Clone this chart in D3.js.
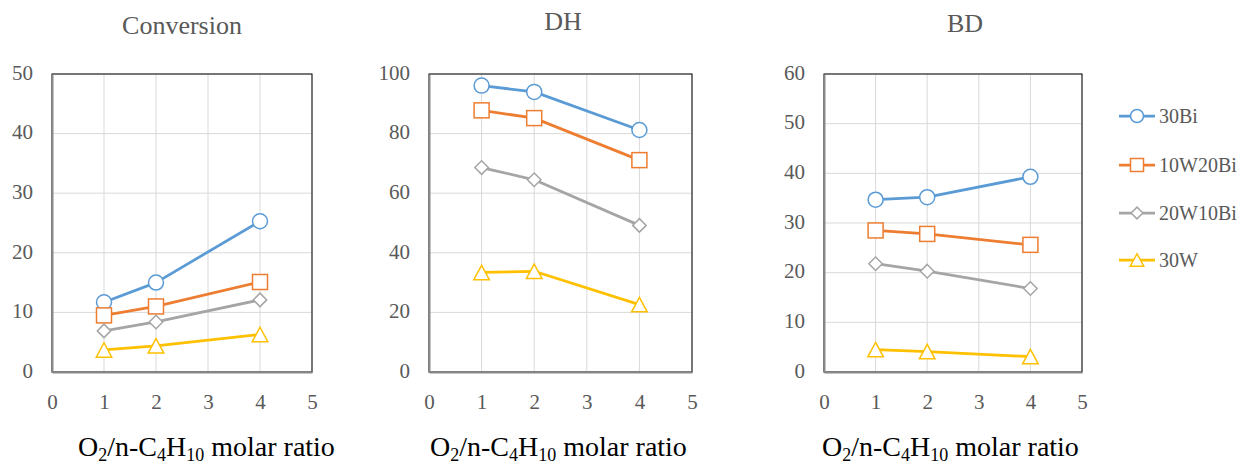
<!DOCTYPE html>
<html>
<head>
<meta charset="utf-8">
<script src="https://cdn.jsdelivr.net/npm/d3@7"></script>
<style>
  body { margin: 0; background: #fff; }
  svg { display: block; }
  svg text { font-family: "Liberation Serif", "Times New Roman", serif; }
</style>
</head>
<body>
<div id="chart"></div>
<script>
// x values (O2/n-C4H10 molar ratio)
var ratios = [1, 2, 4];
var seriesNames = ["30Bi", "10W20Bi", "20W10Bi", "30W"];
var seriesColors = ["#5B9BD5", "#ED7D31", "#A5A5A5", "#FFC000"];
var seriesSymbols = ["circle", "square", "diamond", "triangle"];

// Conversion
var conv30Bi = [11.7, 15.0, 25.3];
var conv10W20Bi = [9.5, 11.0, 15.1];
var conv20W10Bi = [6.9, 8.4, 12.1];
var conv30W = [3.7, 4.4, 6.3];

// DH selectivity
var dh30Bi = [96.1, 94.0, 81.2];
var dh10W20Bi = [87.8, 85.2, 71.1];
var dh20W10Bi = [68.6, 64.5, 49.2];
var dh30W = [33.4, 33.8, 22.6];

// BD selectivity
var bd30Bi = [34.7, 35.2, 39.3];
var bd10W20Bi = [28.5, 27.8, 25.6];
var bd20W10Bi = [21.8, 20.3, 16.8];
var bd30W = [4.5, 4.1, 3.1];

var xTicks = [0, 1, 2, 3, 4, 5];

var panels = [
    { title: "Conversion", titleX: 182, titleY: 34, x0: 52, x1: 312, yMax: 50, yStep: 10, labelX: 78,
      data: [conv30Bi, conv10W20Bi, conv20W10Bi, conv30W] },
    { title: "DH", titleX: 563, titleY: 30, x0: 429, x1: 692, yMax: 100, yStep: 20, labelX: 430,
      data: [dh30Bi, dh10W20Bi, dh20W10Bi, dh30W] },
    { title: "BD", titleX: 965, titleY: 32, x0: 824, x1: 1082, yMax: 60, yStep: 10, labelX: 822,
      data: [bd30Bi, bd10W20Bi, bd20W10Bi, bd30W] }
];

var width = 1248, height = 467;
var top0 = 74, bottom0 = 372;
var serif = "'Liberation Serif', 'Times New Roman', serif";

var svg = d3.select("#chart").append("svg")
    .attr("width", width)
    .attr("height", height);

function drawMarker(g, sym, cx, cy, color, s) {
    if (sym === "circle") {
        g.append("circle").attr("cx", cx).attr("cy", cy).attr("r", s * 0.5)
            .attr("fill", "#fff").attr("stroke", color).attr("stroke-width", 1.5);
    } else if (sym === "square") {
        g.append("rect").attr("x", cx - s / 2).attr("y", cy - s / 2)
            .attr("width", s).attr("height", s)
            .attr("fill", "#fff").attr("stroke", color).attr("stroke-width", 1.5);
    } else if (sym === "diamond") {
        var d = s * 0.45;
        g.append("path")
            .attr("d", "M" + cx + "," + (cy - d) + "L" + (cx + d) + "," + cy + "L" + cx + "," + (cy + d) + "L" + (cx - d) + "," + cy + "Z")
            .attr("fill", "#fff").attr("stroke", color).attr("stroke-width", 1.5);
    } else {
        var w = s * 0.52, h = s * 0.48;
        g.append("path")
            .attr("d", "M" + cx + "," + (cy - h) + "L" + (cx + w) + "," + (cy + h) + "L" + (cx - w) + "," + (cy + h) + "Z")
            .attr("fill", "#fff").attr("stroke", color).attr("stroke-width", 1.5);
    }
}

panels.forEach(function(p) {
    var x = d3.scaleLinear().domain([0, 5]).range([p.x0, p.x1]);
    var y = d3.scaleLinear().domain([0, p.yMax]).range([bottom0, top0]);
    var yTicks = d3.range(0, p.yMax + 0.001, p.yStep);

    var g = svg.append("g");

    // title
    g.append("text")
        .attr("x", p.titleX).attr("y", p.titleY)
        .attr("text-anchor", "middle")
        .attr("font-size", 26)
        .attr("fill", "#595959")
        .text(p.title);

    // gridlines
    g.selectAll(".hgrid").data(yTicks).enter().append("line")
        .attr("x1", p.x0).attr("x2", p.x1)
        .attr("y1", function(d) { return y(d); })
        .attr("y2", function(d) { return y(d); })
        .attr("stroke", "#D9D9D9").attr("stroke-width", 1);
    g.selectAll(".vgrid").data(xTicks).enter().append("line")
        .attr("x1", function(d) { return x(d); })
        .attr("x2", function(d) { return x(d); })
        .attr("y1", top0).attr("y2", bottom0)
        .attr("stroke", "#D9D9D9").attr("stroke-width", 1);

    // plot border
    g.append("rect")
        .attr("x", p.x0).attr("y", top0)
        .attr("width", p.x1 - p.x0).attr("height", bottom0 - top0)
        .attr("fill", "none").attr("stroke", "#000").attr("stroke-width", 1);

    // axes
    var yAxis = g.append("g")
        .attr("transform", "translate(" + p.x0 + ",0)")
        .call(d3.axisLeft(y).tickValues(yTicks).tickSize(0).tickPadding(19).tickFormat(d3.format("d")));
    yAxis.select(".domain").attr("stroke", "#898989").attr("stroke-width", 2);
    yAxis.selectAll("text")
        .style("font-family", serif).style("font-size", "21px")
        .attr("fill", "#595959").attr("dy", "0.25em");

    var xAxis = g.append("g")
        .attr("transform", "translate(0," + bottom0 + ")")
        .call(d3.axisBottom(x).tickValues(xTicks).tickSize(0).tickPadding(22).tickFormat(d3.format("d")));
    xAxis.select(".domain").attr("stroke", "#898989").attr("stroke-width", 2);
    xAxis.selectAll("text")
        .style("font-family", serif).style("font-size", "21px")
        .attr("fill", "#595959");

    // series
    var line = d3.line()
        .x(function(d, i) { return x(ratios[i]); })
        .y(function(d) { return y(d); });

    p.data.forEach(function(vals, si) {
        g.append("path")
            .datum(vals)
            .attr("d", line)
            .attr("fill", "none")
            .attr("stroke", seriesColors[si])
            .attr("stroke-width", 2.75)
            .attr("stroke-linejoin", "round");
        vals.forEach(function(v, i) {
            drawMarker(g, seriesSymbols[si], x(ratios[i]), y(v), seriesColors[si], 15);
        });
    });

    // x axis label
    var lab = g.append("text")
        .attr("x", p.labelX).attr("y", 456)
        .attr("font-size", 28)
        .attr("fill", "#000");
    lab.append("tspan").text("O");
    lab.append("tspan").attr("font-size", 18).attr("dy", 5).text("2");
    lab.append("tspan").attr("dy", -5).text("/n-C");
    lab.append("tspan").attr("font-size", 18).attr("dy", 5).text("4");
    lab.append("tspan").attr("dy", -5).text("H");
    lab.append("tspan").attr("font-size", 18).attr("dy", 5).text("10");
    lab.append("tspan").attr("dy", -5).text(" molar ratio");
});

// legend
var legendY = [116, 165, 213, 260];
var legend = svg.append("g");
seriesNames.forEach(function(name, i) {
    legend.append("line")
        .attr("x1", 1119).attr("x2", 1155)
        .attr("y1", legendY[i]).attr("y2", legendY[i])
        .attr("stroke", seriesColors[i]).attr("stroke-width", 2.75);
    drawMarker(legend, seriesSymbols[i], 1137, legendY[i], seriesColors[i], 13);
    legend.append("text")
        .attr("x", 1159).attr("y", legendY[i])
        .attr("dy", "0.34em")
        .style("font-family", serif)
        .attr("font-size", 20)
        .attr("fill", "#595959")
        .text(name);
});
</script>
</body>
</html>
